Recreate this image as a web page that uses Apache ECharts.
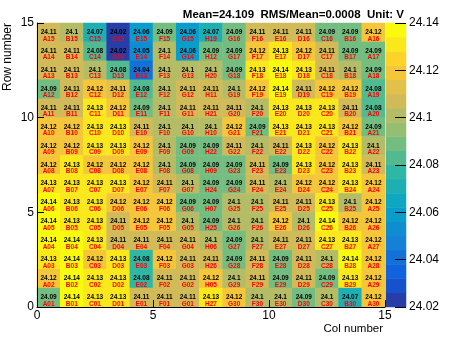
<!DOCTYPE html>
<html><head><meta charset="utf-8">
<script src="https://cdn.jsdelivr.net/npm/echarts@6/dist/echarts.min.js"></script>
<style>html,body{margin:0;padding:0;background:#fff}#c{width:457px;height:337px}</style>
</head><body><div id="c"></div>
<script>
const titleText = 'Mean=24.109  RMS/Mean=0.0008  Unit: V';
const xName = 'Col number', yName = 'Row number';
const zMin = 24.02, zMax = 24.14, nLevels = 20;
// rows listed from top (row 14) to bottom (row 0), columns 0..14
const cellValues = [
 [24.108,24.100,24.070,24.021,24.060,24.089,24.060,24.070,24.089,24.108,24.108,24.108,24.089,24.089,24.119],
 [24.108,24.108,24.081,24.021,24.052,24.100,24.060,24.089,24.089,24.119,24.130,24.119,24.108,24.089,24.089],
 [24.108,24.108,24.100,24.081,24.040,24.100,24.100,24.100,24.089,24.130,24.139,24.130,24.108,24.100,24.089],
 [24.089,24.108,24.119,24.113,24.081,24.100,24.108,24.108,24.100,24.119,24.139,24.108,24.119,24.119,24.081],
 [24.108,24.108,24.130,24.119,24.089,24.100,24.108,24.108,24.108,24.100,24.130,24.130,24.130,24.108,24.081],
 [24.119,24.119,24.130,24.130,24.108,24.100,24.100,24.100,24.119,24.089,24.130,24.130,24.130,24.119,24.089],
 [24.119,24.119,24.130,24.130,24.119,24.100,24.089,24.089,24.108,24.100,24.108,24.130,24.119,24.130,24.100],
 [24.119,24.130,24.119,24.119,24.119,24.100,24.089,24.089,24.089,24.108,24.089,24.130,24.119,24.130,24.108],
 [24.130,24.130,24.130,24.130,24.119,24.108,24.100,24.089,24.089,24.108,24.100,24.119,24.119,24.130,24.119],
 [24.139,24.130,24.130,24.119,24.119,24.119,24.089,24.089,24.100,24.100,24.108,24.108,24.130,24.100,24.119],
 [24.139,24.130,24.130,24.108,24.119,24.119,24.100,24.089,24.100,24.100,24.119,24.100,24.139,24.119,24.119],
 [24.139,24.139,24.130,24.108,24.108,24.108,24.108,24.100,24.089,24.100,24.108,24.108,24.130,24.130,24.119],
 [24.130,24.139,24.119,24.130,24.079,24.119,24.108,24.108,24.089,24.108,24.089,24.108,24.100,24.139,24.119],
 [24.119,24.139,24.130,24.130,24.079,24.108,24.108,24.119,24.100,24.108,24.089,24.108,24.089,24.130,24.119],
 [24.089,24.139,24.130,24.130,24.108,24.108,24.108,24.130,24.119,24.100,24.100,24.089,24.100,24.070,24.119]
];
const cellNames = [
 ['A15','B15','C15','D15','E15','F15','G15','H19','G16','F16','E16','D16','C16','B16','A16'],
 ['A14','B14','C14','D14','E14','F14','G14','H12','G17','F17','E17','D17','C17','B17','A17'],
 ['A13','B13','C13','D13','E13','F13','G13','H20','G18','F18','E18','D18','C18','B18','A18'],
 ['A12','B12','C12','D12','E12','F12','G12','H11','G19','F19','E19','D19','C19','B19','A19'],
 ['A11','B11','C11','D11','E11','F11','G11','H21','G20','F20','E20','D20','C20','B20','A20'],
 ['A10','B10','C10','D10','E10','F10','G10','H10','G21','F21','E21','D21','C21','B21','A21'],
 ['A09','B09','C09','D09','E09','F09','G09','H22','G22','F22','E22','D22','C22','B22','A22'],
 ['A08','B08','C08','D08','E08','F08','G08','H09','G23','F23','E23','D23','C23','B23','A23'],
 ['A07','B07','C07','D07','E07','F07','G07','H24','G24','F24','E24','D24','C24','B24','A24'],
 ['A06','B06','C06','D06','E06','F06','G06','H07','G25','F25','E25','D25','C25','B25','A25'],
 ['A05','B05','C05','D05','E05','F05','G05','H25','G26','F26','E26','D26','C26','B26','A26'],
 ['A04','B04','C04','D04','E04','F04','G04','H06','G27','F27','E27','D27','C27','B27','A27'],
 ['A03','B03','C03','D03','E03','F03','G03','H26','G28','F28','E28','D28','C28','B28','A28'],
 ['A02','B02','C02','D02','E02','F02','G02','H05','G29','F29','E29','D29','C29','B29','A29'],
 ['A01','B01','C01','D01','E01','F01','G01','H27','G30','F30','E30','D30','C30','B30','A30']
];

// ROOT kBird palette
const birdStops = [0.0,0.125,0.25,0.375,0.5,0.625,0.75,0.875,1.0];
const birdR = [0.2082,0.0592,0.0780,0.0232,0.1802,0.5301,0.8186,0.9956,0.9764];
const birdG = [0.1664,0.3599,0.5041,0.6419,0.7178,0.7492,0.7328,0.7862,0.9832];
const birdB = [0.5293,0.8684,0.8385,0.7914,0.6425,0.4662,0.3499,0.1968,0.0539];
function bird(t){
  let k = 0; while (k < birdStops.length-2 && t > birdStops[k+1]) k++;
  const f = (t - birdStops[k])/(birdStops[k+1]-birdStops[k]);
  const c = a => Math.round(255*(a[k] + (a[k+1]-a[k])*f));
  return 'rgb(' + c(birdR) + ',' + c(birdG) + ',' + c(birdB) + ')';
}
const step = (zMax - zMin)/nLevels;
const pieces = [], levelData = [], levelCats = [];
for (let i = 0; i < nLevels; i++) {
  const t = Math.floor((i + 0.99)*255/nLevels)/254;
  const p = {color: bird(Math.min(t,1))};
  if (i > 0) p.gte = zMin + i*step;
  if (i < nLevels-1) p.lt = zMin + (i+1)*step;
  pieces.push(p);
  levelCats.push(String(i));
  levelData.push([0, i, zMin + (i+0.5)*step]);
}

const nRows = cellValues.length, nCols = cellValues[0].length;
const colCats = [], rowCats = [];
for (let i = 0; i < nCols; i++) colCats.push(String(i));
for (let j = 0; j < nRows; j++) rowCats.push(String(j));
const heatData = [];
cellValues.forEach((row, r) => row.forEach((v, c) => {
  heatData.push([c, nRows-1-r, v, cellNames[r][c]]);
}));
const fmt = v => String(Number(v.toFixed(2)));

const FONT = '"Liberation Sans", Arial, Helvetica, sans-serif';
const G = {left: 37, top: 23, width: 348, height: 284};
const CB = {left: 386, top: 23, width: 20, height: 284};

const chart = echarts.init(document.getElementById('c'), null, {renderer: 'canvas'});
chart.setOption({
  backgroundColor: '#fff',
  animation: false,
  textStyle: {fontFamily: FONT},
  grid: [
    Object.assign({containLabel: false}, G),
    Object.assign({containLabel: false}, CB)
  ],
  xAxis: [
    {type: 'category', data: colCats, gridIndex: 0, show: false},
    {type: 'value', gridIndex: 0, min: 0, max: 15, interval: 5, position: 'bottom', z: 10,
     axisLine: {show: true, onZero: false, lineStyle: {color: '#000', width: 1}},
     axisTick: {show: true, inside: true, length: 7, lineStyle: {color: '#000'}},
     axisLabel: {color: '#000', fontSize: 12, margin: 3, fontFamily: FONT},
     splitLine: {show: false}},
    {type: 'category', data: ['0'], gridIndex: 1, show: false}
  ],
  yAxis: [
    {type: 'category', data: rowCats, gridIndex: 0, show: false},
    {type: 'value', gridIndex: 0, min: 0, max: 15, interval: 5, position: 'left', z: 10,
     axisLine: {show: true, onZero: false, lineStyle: {color: '#000', width: 1}},
     axisTick: {show: true, inside: true, length: 7, lineStyle: {color: '#000'}},
     axisLabel: {color: '#000', fontSize: 12, margin: 3, fontFamily: FONT},
     splitLine: {show: false}},
    {type: 'category', data: levelCats, gridIndex: 1, show: false},
    {type: 'value', gridIndex: 1, min: zMin, max: zMax, interval: 0.02, position: 'right', z: 10,
     axisLine: {show: false},
     axisTick: {show: true, inside: true, length: 11, lineStyle: {color: '#000'}},
     axisLabel: {color: '#000', fontSize: 12, margin: 3, fontFamily: FONT},
     splitLine: {show: false}}
  ],
  visualMap: {type: 'piecewise', show: false, dimension: 2, pieces: pieces, seriesIndex: [0, 1]},
  series: [
    {type: 'heatmap', xAxisIndex: 0, yAxisIndex: 0, data: heatData,
     label: {show: true, offset: [0, 3],
       formatter: p => '{v|' + fmt(p.value[2]) + '}\n{n|' + p.value[3] + '}',
       rich: {
         v: {fontSize: 6.5, fontWeight: 'bold', color: '#000', lineHeight: 6.5, fontFamily: FONT},
         n: {fontSize: 6.5, fontWeight: 'bold', color: '#f00', lineHeight: 6.5, fontFamily: FONT}
       }},
     emphasis: {disabled: true}},
    {type: 'heatmap', xAxisIndex: 2, yAxisIndex: 2, data: levelData, emphasis: {disabled: true}}
  ],
  graphic: [
    {type: 'text', x: 404, y: 15,
     style: {text: titleText, font: 'bold 11.5px ' + FONT, fill: '#000', align: 'right', verticalAlign: 'middle'}},
    {type: 'text', x: 8, y: 23, rotation: Math.PI/2,
     style: {text: yName, font: '12px ' + FONT, fill: '#000', align: 'right', verticalAlign: 'middle'}},
    {type: 'text', x: 383, y: 329,
     style: {text: xName, font: '11.5px ' + FONT, fill: '#000', align: 'right', verticalAlign: 'middle'}}
  ]
});
</script></body></html>
